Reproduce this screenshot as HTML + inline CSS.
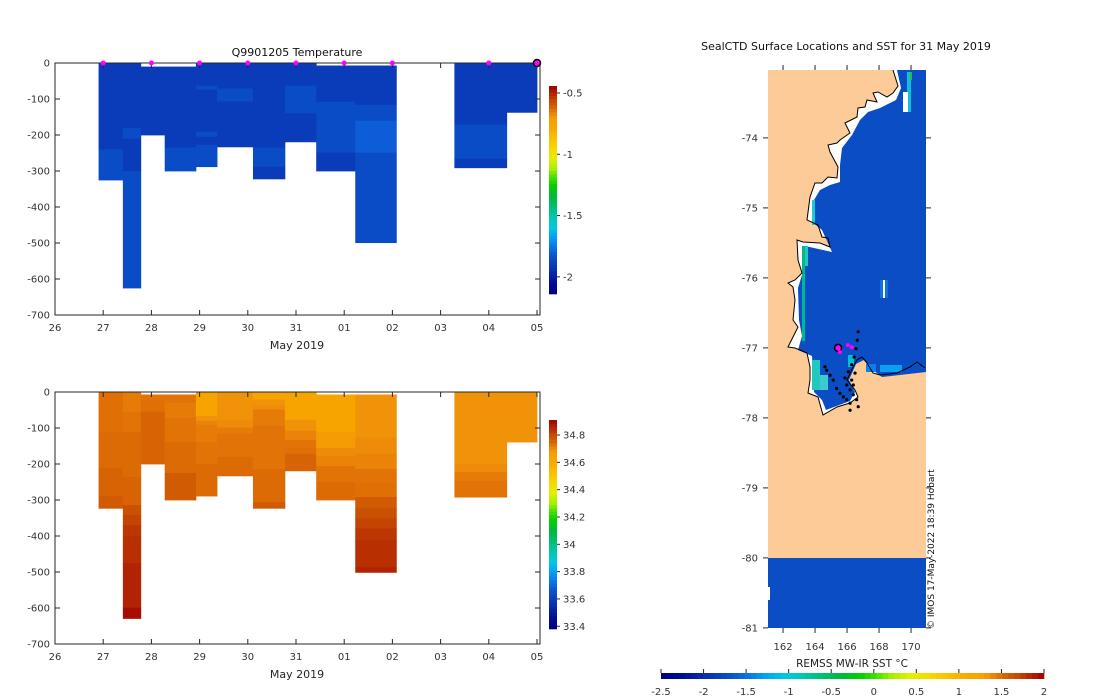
<!DOCTYPE html>
<html><head><meta charset="utf-8"><style>
html,body{margin:0;padding:0;background:#fff}
svg{display:block;font-family:"DejaVu Sans","Liberation Sans",sans-serif}
</style></head><body>
<svg id="fig" width="1100" height="700" viewBox="0 0 1100 700" xmlns="http://www.w3.org/2000/svg">
<g id="top"></g>
<g id="bot"></g>
<g id="map"></g>
<g id="cbars"></g>
</svg>
<script>
// ---------- data ----------
const dayTickLabels = ["26","27","28","29","30","31","01","02","03","04","05"];
const depthTickLabels = ["0","-100","-200","-300","-400","-500","-600","-700"];
const colStart = [0.904,1.408,1.780,2.276,2.924,3.362,4.107,4.770,5.419,6.229,8.286,9.372];
const colEnd   = [1.408,1.780,2.276,2.924,3.362,4.107,4.770,5.419,6.229,7.082,9.372,10.0];
const profileDays = [1,2,3,4,5,6,7,9,10];
const tempEdges = [
 [0,240,325],[0,180,210,300,625],[10,200],[10,235,300],[0,63,74,191,205,227,288],
 [0,71,107,233],[0,235,288,322],[0,63,140,219],[7,108,249,300],[7,116,160,249,499],
 [0,171,266,291],[0,137]];
const tempVals = [
 [-1.90,-1.85],[-1.90,-1.85,-1.90,-1.85],[-1.90],[-1.90,-1.85],[-1.90,-1.85,-1.90,-1.85,-1.90,-1.85],
 [-1.90,-1.85,-1.90],[-1.90,-1.85,-1.90],[-1.90,-1.85,-1.90],[-1.90,-1.85,-1.90],[-1.90,-1.85,-1.80,-1.85],
 [-1.90,-1.85,-1.90],[-1.90]];
const salEdges = [
 [0,111,211,289,323],[0,55,111,236,314,342,370,401,476,599,629],[7,21,55,200],[7,30,72,139,225,300],
 [0,66,80,91,139,200,289],[0,77,99,116,180,233],[0,21,38,49,94,214,306,323],[0,77,108,133,155,172,219],
 [7,111,155,178,206,250,300],[7,127,172,214,253,292,323,351,379,412,487,501],[0,200,222,247,292],[0,139]];
const salVals = [
 [34.735,34.74,34.755,34.77],[34.72,34.73,34.74,34.755,34.79,34.81,34.83,34.84,34.86,34.89],[34.73,34.735,34.755],
 [34.73,34.72,34.73,34.74,34.77],[34.65,34.69,34.71,34.72,34.73,34.74],[34.69,34.70,34.72,34.73,34.74],
 [34.65,34.69,34.70,34.72,34.73,34.74,34.77],[34.65,34.69,34.71,34.73,34.735,34.755],
 [34.65,34.67,34.70,34.71,34.73,34.74],[34.69,34.70,34.71,34.73,34.735,34.77,34.79,34.81,34.83,34.84,34.86],
 [34.69,34.70,34.72,34.73],[34.69]];
const tempCbTicks = [-0.5,-1,-1.5,-2];
const salCbTicks = [34.8,34.6,34.4,34.2,34,33.8,33.6,33.4];
const sstTicks = [-2.5,-2,-1.5,-1,-0.5,0,0.5,1,1.5,2];
const latTicks = [-74,-75,-76,-77,-78,-79,-80,-81];
const lonTicks = [162,164,166,168,170];
const trackLon = [166.70,166.64,166.56,166.44,166.29,166.08,165.87,165.98,166.19,166.39,166.60,166.70,166.19,165.56,165.14,164.73,164.62,165.35,165.77,166.29,166.50,166.19,164.94,165.98,166.39];
const trackLat = [-76.77,-76.89,-77.01,-77.13,-77.24,-77.34,-77.43,-77.53,-77.60,-77.67,-77.74,-77.84,-77.89,-77.65,-77.46,-77.32,-77.27,-77.58,-77.70,-77.46,-77.36,-77.79,-77.39,-77.74,-77.53];
const surfLon = [165.44,166.05,166.3,165.55];
const surfLat = [-77.0,-76.96,-76.99,-77.06];
const seaSST = -1.73;

// ---------- helpers ----------
const NS="http://www.w3.org/2000/svg";
function mk(parent,tag,attrs,text){const e=document.createElementNS(NS,tag);for(const k in attrs)e.setAttribute(k,attrs[k]);if(text!==undefined)e.textContent=text;parent.appendChild(e);return e;}
const stops=[[0,"#000080"],[.06,"#00109a"],[.12,"#0a30b0"],[.17,"#0a4cc4"],[.2,"#0d5cd8"],[.24,"#0a80ec"],[.28,"#00a8f8"],[.32,"#00c8e0"],[.37,"#00c8b0"],[.42,"#00c070"],[.47,"#00b840"],[.52,"#00d000"],[.56,"#40e000"],[.6,"#a0f000"],[.65,"#e0f000"],[.7,"#f8d800"],[.75,"#f8c000"],[.8,"#f8a800"],[.83,"#f8a400"],[.855,"#f29408"],[.875,"#e87c08"],[.89,"#dc6a05"],[.91,"#d05a02"],[.935,"#c44402"],[.955,"#b82e02"],[.97,"#b02002"],[1,"#a00000"]];
function hx(c){return [parseInt(c.substr(1,2),16),parseInt(c.substr(3,2),16),parseInt(c.substr(5,2),16)];}
function cmap(f){f=Math.max(0,Math.min(1,f));for(let i=1;i<stops.length;i++){if(f<=stops[i][0]){const a=stops[i-1],b=stops[i];const t=(f-a[0])/(b[0]-a[0]);const ca=hx(a[1]),cb=hx(b[1]);return "rgb("+ca.map((v,j)=>Math.round(v+(cb[j]-v)*t)).join(",")+")";}}return stops[stops.length-1][1];}
const tempMin=-2.14,tempMax=-0.443,salMin=33.38,salMax=34.91,sstMin=-2.5,sstMax=2;

function section(g,y0,edgesA,valsA,vmin,vmax,title,markers){
  const X=d=>55+d*48.2, Y=z=>y0+z*0.36;
  for(let c=0;c<edgesA.length;c++){
    const e=edgesA[c],v=valsA[c];
    for(let k=0;k<v.length;k++){
      const r=mk(g,"rect",{x:X(colStart[c]),y:Y(e[k]),width:X(colEnd[c])-X(colStart[c])+0.4,height:Y(e[k+1])-Y(e[k])+0.4,fill:cmap((v[k]-vmin)/(vmax-vmin))});
      
      
    }
  }
  const ax=mk(g,"g",{});
  
  
  mk(ax,"rect",{x:55,y:y0,width:485,height:252,fill:"none",stroke:"#262626","stroke-width":1});
  dayTickLabels.forEach((l,i)=>{const x=X(i);
    mk(ax,"line",{x1:x,y1:y0+252,x2:x,y2:y0+247,stroke:"#262626"});
    mk(ax,"line",{x1:x,y1:y0,x2:x,y2:y0+5,stroke:"#262626"});
    const t=mk(ax,"text",{x:x,y:y0+268,"font-size":10,fill:"#333","text-anchor":"middle"},l);
    
    });
  depthTickLabels.forEach((l,i)=>{const y=Y(i*100);
    mk(ax,"line",{x1:55,y1:y,x2:60,y2:y,stroke:"#262626"});
    mk(ax,"line",{x1:540,y1:y,x2:535,y2:y,stroke:"#262626"});
    const t=mk(ax,"text",{x:50,y:y+3.5,"font-size":10,fill:"#333","text-anchor":"end"},l);
    
    });
  const xl=mk(ax,"text",{x:297,y:y0+286,"font-size":11,fill:"#262626","text-anchor":"middle"},"May 2019");
  
  
  if(title){const tt=mk(ax,"text",{x:297,y:y0-7,"font-size":11,fill:"#111","text-anchor":"middle"},title);
    
    }
  if(markers){profileDays.forEach((d,i)=>{const last=i===profileDays.length-1;
    const m=mk(ax,"circle",{cx:X(d),cy:y0,r:last?3.5:2.5,fill:"#ff00ff",stroke:last?"#000":"none","stroke-width":1.5});
    
    });}
}
section(document.getElementById("top"),63,tempEdges,tempVals,tempMin,tempMax,"Q9901205  Temperature",true);
section(document.getElementById("bot"),392,salEdges,salVals,salMin,salMax,null,false);

// ---------- vertical colorbars ----------
function vbar(g,yTop,yBot,vmin,vmax,ticks,name){
  const gg=mk(g,"g",{});
  
  
  const n=64,h=(yBot-yTop)/n;
  for(let i=0;i<n;i++)mk(gg,"rect",{x:549,y:yBot-(i+1)*h,width:8,height:h+0.3,fill:cmap((i+0.5)/n)});
  const Yv=v=>yBot-(v-vmin)/(vmax-vmin)*(yBot-yTop);
  ticks.forEach(v=>{const y=Yv(v);mk(gg,"line",{x1:557,y1:y,x2:560,y2:y,stroke:"#262626"});
    const t=mk(gg,"text",{x:563,y:y+3.5,"font-size":10,fill:"#333"},String(v));
    
    });
}
const cb=document.getElementById("cbars");
vbar(cb,86,294,tempMin,tempMax,tempCbTicks,"temperature-colorbar");
vbar(cb,420,629,salMin,salMax,salCbTicks,"salinity-colorbar");
(function(){
  const gg=mk(cb,"g",{});
  
  
  const x0=661,x1=1044,n=64,w=(x1-x0)/n;
  for(let i=0;i<n;i++)mk(gg,"rect",{x:x0+i*w,y:673,width:w+0.3,height:6,fill:cmap((i+0.5)/n)});
  sstTicks.forEach(v=>{const x=x0+(v-sstMin)/(sstMax-sstMin)*(x1-x0);
    mk(gg,"line",{x1:x,y1:669,x2:x,y2:673,stroke:"#262626"});
    const t=mk(gg,"text",{x:x,y:695,"font-size":10,fill:"#333","text-anchor":"middle"},String(v));
    
    });
  const tl=mk(gg,"text",{x:852,y:667,"font-size":10.5,fill:"#222","text-anchor":"middle"},"REMSS MW-IR SST °C");
  
  
})();

// ---------- map ----------
(function(){
  const g=document.getElementById("map");
  const LX=lon=>768+(lon-161.06)*16, LY=lat=>70+(-73.03-lat)*70;
  const sea=cmap((seaSST-sstMin)/(sstMax-sstMin));
  mk(g,"rect",{x:768,y:70,width:158,height:488,fill:"#fdcb98"});
  const bb=mk(g,"rect",{x:768,y:558,width:158,height:70,fill:sea});
  
  
  mk(g,"rect",{x:768,y:587,width:2,height:13,fill:"#fff"});
  const coast="893,70 898,86 893,93 887,97 878,92 873,93 877,102 867,100 865,107 858,108 857,117 845,123 850,133 840,140 837,143 828,145 830,152 838,167 837,178 828,177 822,183 815,183 810,197 807,220 818,225 822,237 828,238 830,247 820,243 803,242 797,240 798,260 802,273 795,280 788,283 793,287 795,300 793,320 798,327 793,337 788,347 795,348 807,353 810,367 810,380 808,393 818,397 823,415 837,407 850,403 858,397 855,390 847,380 853,367 857,360 862,357 867,363 873,373 880,375 897,373 910,367 917,362 925,368 926,368 926,70";
  mk(g,"polygon",{points:coast,fill:"#fff"});
  const inner="897,70 901,88 896,100 880,108 868,112 860,120 852,135 842,148 840,165 840,182 830,185 820,190 814,200 812,222 822,230 832,252 805,246 802,275 798,288 799,320 802,336 798,350 812,356 814,392 822,400 826,410 850,401 855,392 849,380 856,364 864,360 870,368 882,377 926,372 926,70";
  const sp=mk(g,"polygon",{points:inner,fill:sea});
  
  
  [[802,246,3,95,"#00b890"],[805,246,3,20,"#20c8c0"],[812,360,8,30,"#20c8c0"],[820,375,8,15,"#40c8d0"],[812,200,3,25,"#20c8d0"],[907,72,4,40,"#10c0d8"],[910,72,2,8,"#20c040"],[903,92,5,20,"#fff"],[866,364,10,8,"#0a80ec"],[880,365,22,7,"#0aa0f0"],[880,280,8,18,"#1070e0"],[883,280,2,18,"#fff"],[848,355,6,12,"#00c0d8"]].forEach(r=>{
    mk(g,"rect",{x:r[0],y:r[1],width:r[2],height:r[3],fill:r[4]});});
  const cl=mk(g,"polyline",{points:coast.split(" ").slice(0,-2).join(" "),fill:"none",stroke:"#000","stroke-width":1});
  
  
  trackLon.forEach((lo,i)=>{const d=mk(g,"circle",{cx:LX(lo),cy:LY(trackLat[i]),r:1.6,fill:"#000"});
    
    });
  surfLon.forEach((lo,i)=>{const first=i===0;const d=mk(g,"circle",{cx:LX(lo),cy:LY(surfLat[i]),r:first?3.5:2,fill:"#ff00ff",stroke:first?"#000":"none","stroke-width":1.5});
    
    });
  latTicks.forEach(v=>{const y=LY(v);
    mk(g,"line",{x1:763,y1:y,x2:768,y2:y,stroke:"#262626"});
    mk(g,"line",{x1:926,y1:y,x2:931,y2:y,stroke:"#262626"});
    const t=mk(g,"text",{x:758,y:y+3.5,"font-size":10,fill:"#333","text-anchor":"end"},String(v));
    
    });
  lonTicks.forEach(v=>{const x=LX(v);
    mk(g,"line",{x1:x,y1:65,x2:x,y2:70,stroke:"#262626"});
    mk(g,"line",{x1:x,y1:628,x2:x,y2:633,stroke:"#262626"});
    const t=mk(g,"text",{x:x,y:650,"font-size":10,fill:"#333","text-anchor":"middle"},String(v));
    
    });
  const tt=mk(g,"text",{x:846,y:50,"font-size":11,fill:"#111","text-anchor":"middle"},"SealCTD Surface Locations and SST for 31 May 2019");
  
  
  const cr=mk(g,"text",{x:0,y:0,"font-size":9,fill:"#111",transform:"translate(934,629) rotate(-90)"},"© IMOS 17-May-2022 18:39 Hobart");
  
  
})();
</script>
</body></html>
